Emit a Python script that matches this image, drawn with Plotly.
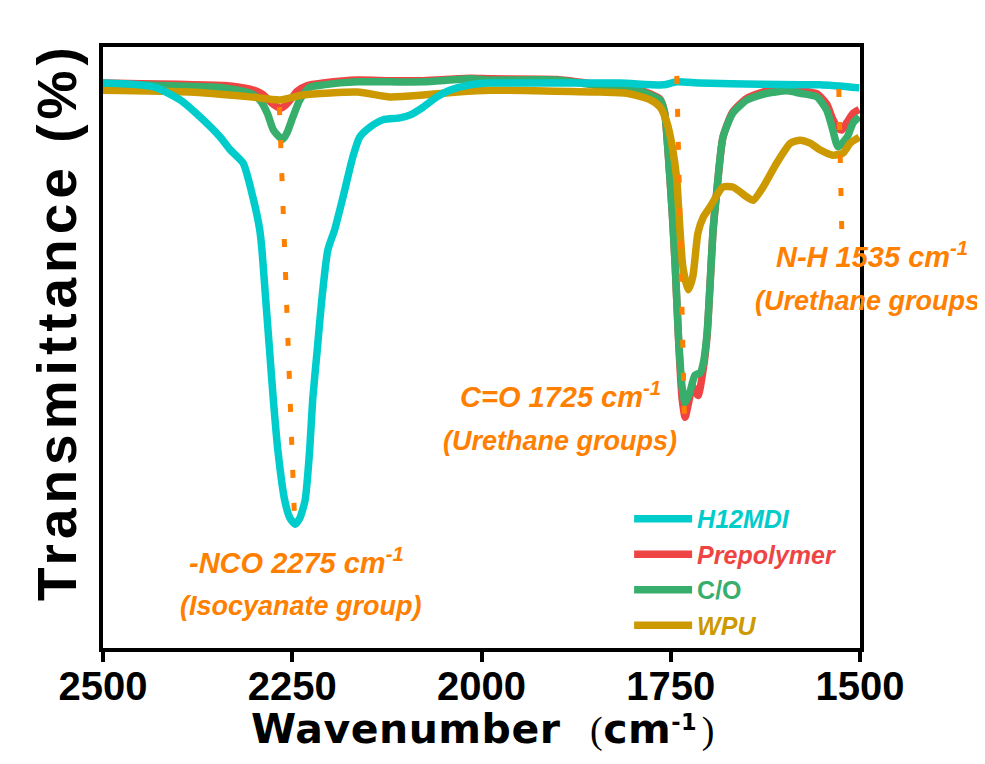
import plotly.graph_objects as go

FONT = "Liberation Sans"

# ---------------- data (wavenumber cm-1, transmittance %) ----------------
h12mdi_wn = [2500, 2451, 2429, 2398, 2372, 2345, 2332, 2315, 2302, 2293, 2290, 2285, 2280, 2275,
             2269, 2260, 2253, 2246, 2240, 2233, 2227, 2223, 2217, 2211, 2203, 2194, 2183, 2170,
             2161, 2147, 2130, 2108, 2094, 2077, 2059, 2042, 2015, 1989, 1910, 1817, 1760, 1742,
             1711, 1632, 1553, 1501]
h12mdi_t = [94.0, 93.7, 93.2, 91.2, 88.4, 85.0, 82.9, 80.7, 75.0, 69.6, 66.2, 57.9, 49.6, 41.3,
            32.9, 24.6, 21.6, 20.6, 21.6, 24.6, 32.9, 41.3, 49.6, 57.9, 66.2, 69.6, 75.0, 81.7,
            85.0, 86.7, 87.9, 88.2, 88.7, 90.0, 91.7, 92.8, 93.7, 94.0, 94.0, 94.0, 93.7, 94.2,
            94.0, 93.8, 93.7, 93.2]

prepolymer_wn = [2500, 2450, 2400, 2340, 2306, 2290, 2280, 2272, 2266, 2260, 2252, 2244, 2230, 2209,
                 2164, 2121, 2077, 2015, 1989, 1900, 1843, 1800, 1777, 1764, 1758, 1754, 1748, 1744,
                 1740, 1735, 1731, 1727, 1721, 1714, 1707, 1702, 1698, 1694, 1689, 1681, 1668, 1649,
                 1623, 1596, 1579, 1557, 1544, 1536, 1529, 1524, 1517, 1509, 1501]
prepolymer_t = [94.0, 93.9, 93.8, 93.6, 93.0, 92.2, 91.0, 90.2, 89.8, 90.2, 91.3, 92.6, 93.6, 94.0,
                94.5, 94.4, 94.4, 94.8, 94.7, 94.6, 93.7, 93.2, 92.2, 91.3, 89.0, 83.4, 72.4, 63.4,
                52.0, 41.5, 38.4, 40.5, 43.5, 42.0, 46.5, 52.0, 60.7, 69.6, 76.2, 85.0, 89.2, 91.5,
                92.7, 93.1, 92.8, 92.2, 90.5, 88.0, 86.5, 86.2, 87.5, 89.0, 89.6]

co_wn = [2500, 2450, 2400, 2340, 2306, 2293, 2283, 2275, 2266, 2262, 2257, 2249, 2240, 2227,
         2209, 2164, 2121, 2077, 2015, 1989, 1900, 1843, 1800, 1777, 1764, 1758, 1754, 1748,
         1744, 1740, 1735, 1731, 1725, 1718, 1711, 1707, 1702, 1698, 1694, 1689, 1681, 1668,
         1649, 1623, 1596, 1579, 1557, 1544, 1536, 1529, 1517, 1509, 1501]
co_t = [93.8, 93.7, 93.5, 93.2, 92.3, 91.2, 89.0, 86.2, 84.9, 84.7, 85.7, 88.4, 91.2, 93.3,
        93.7, 94.2, 94.2, 94.2, 94.7, 94.5, 94.5, 93.5, 93.0, 92.0, 91.2, 89.0, 83.4, 72.4,
        63.4, 52.4, 43.4, 40.8, 42.4, 45.4, 45.8, 47.4, 52.4, 60.7, 69.6, 76.2, 85.0, 89.0,
        91.2, 92.3, 92.7, 92.3, 91.7, 89.5, 86.2, 83.4, 85.0, 87.4, 88.4]

wpu_wn = [2500, 2385, 2306, 2266, 2236, 2164, 2121, 2077, 2032, 1989, 1843, 1808, 1777, 1764,
          1755, 1748, 1742, 1740, 1737, 1734, 1727, 1721, 1714, 1707, 1698, 1681, 1668, 1649,
          1641, 1628, 1610, 1592, 1579, 1566, 1553, 1536, 1522, 1513, 1501]
wpu_t = [92.8, 92.5, 91.7, 91.2, 92.0, 92.5, 91.7, 92.0, 92.5, 92.8, 92.5, 92.3, 91.2, 90.0,
         87.4, 83.4, 77.9, 74.0, 68.0, 63.4, 59.6, 61.7, 69.1, 71.7, 73.4, 76.7, 76.7, 75.0,
         74.5, 76.7, 80.7, 84.0, 84.5, 84.0, 82.9, 82.0, 82.4, 84.0, 85.0]

# guide lines marking the bands
nco_line_wn = [2267, 2247]
nco_line_t = [90.0, 21.5]
co_line_wn = [1742, 1732]
co_line_t = [95.2, 38.5]
nh_line_wn = [1528, 1524]
nh_line_t = [93.0, 69.0]

tick_vals = [2500, 2250, 2000, 1750, 1500]
tick_text = ["2500", "2250", "2000", "1750", "1500"]

# ---------------- style ----------------
C_CYAN = "#00CCCC"
C_RED = "#EE4444"
C_GREEN = "#38AE6C"
C_GOLD = "#CC9900"
C_ORANGE = "#FF8000"

fig = go.Figure()

series = [
    (prepolymer_wn, prepolymer_t, "Prepolymer", C_RED, 2, True),
    (co_wn, co_t, "C/O", C_GREEN, 3, False),
    (wpu_wn, wpu_t, "WPU", C_GOLD, 4, True),
    (h12mdi_wn, h12mdi_t, "H12MDI", C_CYAN, 1, True),
]
for wn, t, name, color, rank, ital in series:
    label = f"<span style='color:{color}'>{name}</span>"
    if ital:
        label = f"<i>{label}</i>"
    fig.add_trace(go.Scatter(
        x=wn, y=t, mode="lines", name=f"<b>{label}</b>", legendrank=rank,
        line=dict(color=color, width=7.5, shape="spline", smoothing=0.6),
    ))

for wn, t in [(nco_line_wn, nco_line_t), (co_line_wn, co_line_t), (nh_line_wn, nh_line_t)]:
    fig.add_trace(go.Scatter(
        x=wn, y=t, mode="lines", showlegend=False, hoverinfo="skip",
        line=dict(color=C_ORANGE, width=5, dash="8px,25px"),
    ))

f1 = dict(family=FONT, size=29, color=C_ORANGE)
f2 = dict(family=FONT, size=27, color=C_ORANGE)
annotations = [
    dict(x=2244, y=11.2, xref="x", yref="y", text="<b><i>-NCO 2275 cm<sup>-1</sup></i></b>", font=f1),
    dict(x=2238, y=4.2, xref="x", yref="y", text="<b><i>(Isocyanate group)</i></b>", font=f2),
    dict(x=1896, y=38.8, xref="x", yref="y", text="<b><i>C=O 1725 cm<sup>-1</sup></i></b>", font=f1),
    dict(x=1896, y=31.6, xref="x", yref="y", text="<b><i>(Urethane groups)</i></b>", font=f2),
    dict(x=1.0159, y=62.1, xref="paper", yref="y", text="<b><i>N-H 1535 cm<sup>-1</sup></i></b>", font=f1),
    dict(x=1.0159, y=54.9, xref="paper", yref="y", text="<b><i>(Urethane groups)</i></b>", font=f2),
]
for a in annotations:
    a.update(showarrow=False, xanchor="center", yanchor="bottom")

# y axis title (rotated text, slightly above centre as in the original)
annotations.append(dict(
    x=-0.0608, y=0.544, xref="paper", yref="paper", showarrow=False,
    textangle=-90, xanchor="center", yanchor="middle",
    text="<span style='letter-spacing:5px'><b>Transmittance (%)</b></span>",
    font=dict(family=FONT, size=55, color="black"),
))

# x axis title
paren = "<span style='font-family:Liberation Serif;font-weight:normal;font-size:38px'>{}</span>"
xtitle = ("<span style='letter-spacing:0.5px'><b>Wavenumber&nbsp; " + paren.format("(")
          + "cm<span style='font-size:32px'><sup>-1</sup></span>&#8202;" + paren.format(")") + "</b></span>")
annotations.append(dict(
    x=0.502, y=-0.1775, xref="paper", yref="paper", showarrow=False,
    xanchor="center", yanchor="bottom", text=xtitle,
    font=dict(family="DejaVu Sans", size=41, color="black"),
))

# the page places the figure 8 px from the window's top-left corner
fig.update_layout(
    width=977, height=756,
    margin=dict(l=95, r=125, t=39, b=116),
    paper_bgcolor="white", plot_bgcolor="white",
    font=dict(family=FONT, color="black"),
    annotations=annotations,
    showlegend=True,
    legend=dict(
        x=0.695, y=0.253, xanchor="left", yanchor="top",
        bgcolor="rgba(0,0,0,0)", borderwidth=0,
        font=dict(family=FONT, size=25),
        itemwidth=58, tracegroupgap=0,
    ),
    xaxis=dict(
        range=[2500, 1500], tickvals=tick_vals, ticktext=tick_text,
        ticks="outside", ticklen=10, tickwidth=3.5, tickcolor="black",
        ticklabelstandoff=-10,
        showline=True, linewidth=4, linecolor="black", mirror=True,
        showgrid=False, zeroline=False, automargin=False,
        tickfont=dict(family=FONT, size=40, color="black", weight="bold"),
    ),
    yaxis=dict(
        range=[0, 100], showticklabels=False, ticks="",
        showline=True, linewidth=4, linecolor="black", mirror=True,
        showgrid=False, zeroline=False, automargin=False,
    ),
)

fig.write_html("out.html")
